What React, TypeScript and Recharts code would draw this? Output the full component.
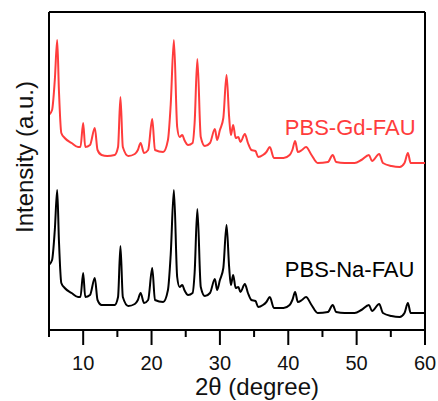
import React from 'react';
import { LineChart, Line, XAxis, YAxis, ReferenceLine, ReferenceDot, Label } from 'recharts';

const twoTheta = [5.0, 5.45, 5.85, 6.2, 6.45, 6.8, 7.3, 8.3, 9.25, 9.6, 10.0, 10.3, 11.0, 11.7, 12.1, 12.7, 13.5, 14.6, 15.1, 15.45, 15.8, 16.6, 17.55, 18.0, 18.4, 18.9, 19.5, 20.1, 20.5, 21.7, 22.4, 22.8, 23.27, 23.75, 24.1, 24.5, 24.8, 25.35, 26.0, 26.3, 26.7, 27.2, 27.8, 28.55, 29.26, 29.6, 30.0, 30.5, 30.97, 31.35, 31.6, 31.94, 32.3, 32.7, 33.0, 33.65, 34.1, 34.6, 35.2, 35.6, 36.3, 36.8, 37.3, 37.9, 39.3, 40.2, 40.6, 41.0, 41.4, 42.0, 42.6, 43.4, 44.3, 45.8, 46.5, 47.0, 48.25, 49.7, 50.7, 51.8, 52.25, 53.3, 53.85, 55.1, 56.3, 57.0, 57.5, 57.9, 59.0, 60.0];

const gdIntensity = [215, 220, 250, 290, 240, 197, 192, 187, 183, 183, 207, 183, 185, 202, 180, 175, 174, 175, 183, 233, 183, 174, 176, 180, 187, 177, 180, 211, 180, 178, 190, 225, 290, 203, 193, 195, 190, 185, 187, 207, 271, 193, 184, 187, 201, 190, 200, 212, 255, 213, 195, 205, 192, 193, 188, 196, 187, 180, 179, 173, 175, 178, 183, 172, 172, 175, 180, 189, 178, 180, 183, 175, 167, 168, 175, 168, 167, 167, 170, 175, 169, 176, 167, 164, 163, 167, 177, 167, 167, 167];

const naIntensity = [65, 70, 100, 140, 90, 47, 42, 37, 33, 33, 57, 33, 35, 52, 30, 25, 25, 25, 33, 84, 33, 24, 26, 30, 37, 27, 30, 62, 30, 28, 40, 75, 140, 53, 43, 45, 40, 35, 37, 57, 121, 43, 34, 37, 51, 40, 50, 62, 105, 63, 45, 55, 42, 43, 38, 46, 37, 30, 29, 23, 25, 28, 33, 22, 22, 25, 30, 38, 28, 30, 33, 25, 17, 18, 25, 18, 17, 17, 20, 25, 19, 26, 17, 14, 13, 17, 27, 17, 17, 17];

const xTicks = [5, 10, 15, 20, 25, 30, 35, 40, 45, 50, 55, 60];
const xDomain = [5, 60];
const yDomain = [0, 318];

const seriesNames = ['PBS-Gd-FAU', 'PBS-Na-FAU'];
const labelAnchorX = 39.5;
const labelAnchorY = [195, 53.3];

const gdData = twoTheta.map((x, i) => ({ x, y: gdIntensity[i] }));
const naData = twoTheta.map((x, i) => ({ x, y: naIntensity[i] }));

const FONT = '"Liberation Sans", Arial, Helvetica, sans-serif';
const RED = '#ff3c3c';

const XTick = (props: any) => {
  const { x, y, payload } = props;
  const major = payload.value % 10 === 0;
  return (
    <g>
      <line x1={x} y1={y} x2={x} y2={y + (major ? 15 : 7)} stroke="#000" strokeWidth={2} />
      {major && (
        <text x={x} y={y + 40} textAnchor="middle" fontSize={20} fontFamily={FONT} fill="#111">
          {payload.value}
        </text>
      )}
    </g>
  );
};

const XTitle = (props: any) => {
  const vb = props.viewBox;
  return (
    <text x={vb.x + vb.width / 2 + 20} y={vb.y + 65} textAnchor="middle" fontSize={24} fontFamily={FONT} fill="#111">
      2θ (degree)
    </text>
  );
};

const YTitle = (props: any) => {
  const vb = props.viewBox;
  const bx = vb.x + vb.width - 16;
  const cy = vb.y + vb.height / 2 - 14;
  return (
    <text x={bx} y={cy} transform={`rotate(-90, ${bx}, ${cy})`} textAnchor="middle" fontSize={24} fontFamily={FONT} fill="#111">
      Intensity (a.u.)
    </text>
  );
};

const seriesLabel = (text: string, color: string) => (props: any) => {
  const vb = props.viewBox;
  return (
    <text x={vb.x} y={vb.y} textAnchor="start" fontSize={22} fontFamily={FONT} fill={color}>
      {text}
    </text>
  );
};

export default function App() {
  return (
    <div style={{ position: 'absolute', left: 0, top: 0, background: '#fff' }}>
      <LineChart width={438} height={401} margin={{ top: 12, right: 13, bottom: 0, left: 48 }}>
        <XAxis
          type="number"
          dataKey="x"
          domain={xDomain}
          ticks={xTicks}
          interval={0}
          allowDataOverflow
          height={71}
          tickLine={false}
          tickSize={0}
          tickMargin={0}
          tick={<XTick />}
          axisLine={{ stroke: '#000', strokeWidth: 2 }}
        >
          <Label content={<XTitle />} />
        </XAxis>
        <YAxis
          type="number"
          domain={yDomain}
          allowDataOverflow
          width={1}
          tick={false}
          tickLine={false}
          axisLine={{ stroke: '#000', strokeWidth: 2 }}
        >
          <Label content={<YTitle />} />
        </YAxis>
        <ReferenceLine y={yDomain[1]} stroke="#000" strokeWidth={2} ifOverflow="visible" />
        <ReferenceLine x={xDomain[1]} stroke="#000" strokeWidth={2} ifOverflow="visible" />
        <ReferenceLine x={xDomain[0]} stroke="#000" strokeWidth={2} ifOverflow="visible" />
        <Line data={gdData} dataKey="y" type="monotone" stroke={RED} strokeWidth={2} dot={false} isAnimationActive={false} />
        <Line data={naData} dataKey="y" type="monotone" stroke="#000" strokeWidth={2} dot={false} isAnimationActive={false} />
        <ReferenceDot x={labelAnchorX} y={labelAnchorY[0]} r={0} stroke="none" fill="none" ifOverflow="visible" label={seriesLabel(seriesNames[0], RED)} />
        <ReferenceDot x={labelAnchorX} y={labelAnchorY[1]} r={0} stroke="none" fill="none" ifOverflow="visible" label={seriesLabel(seriesNames[1], '#000')} />
      </LineChart>
    </div>
  );
}
